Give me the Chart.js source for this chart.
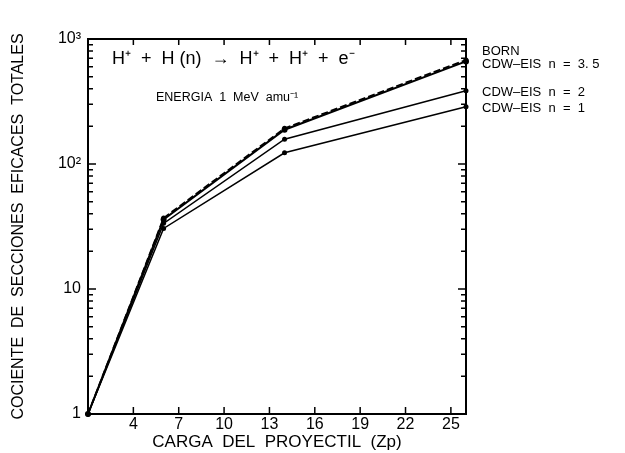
<!DOCTYPE html>
<html>
<head>
<meta charset="utf-8">
<script src="https://cdn.jsdelivr.net/npm/chart.js@4"></script>
<style>
  body { margin: 0; background: #fff; }
  canvas { display: block; }
</style>
</head>
<body>
<canvas id="chart" width="625" height="453"></canvas>
<script>
// projectile charge (Zp)
const zp = [1, 6, 14, 26];
// ratio of total cross sections
const born = [1, 37, 193, 680];
const cdw35 = [1, 36, 188, 662];
const cdw2 = [1, 33.5, 158, 385];
const cdw1 = [1, 30.5, 123, 287];

const xTicks = [1, 4, 7, 10, 13, 16, 19, 22, 25];
const xTickText = ['', '4', '7', '10', '13', '16', '19', '22', '25'];
const yTicks = [1, 10, 100, 1000];
const yTickText = ['1', '10', '10\u00B2', '10\u00B3'];

const seriesNames = ['BORN', 'CDW\u2013EIS  n  =  3. 5', 'CDW\u2013EIS  n  =  2', 'CDW\u2013EIS  n  =  1'];

const FONT = '"Liberation Sans", Arial, sans-serif';

function pts(arr) {
    return zp.map((z, i) => ({ x: z, y: arr[i] }));
}

// frame, inside ticks and the text labels
const decor = {
    id: 'decor',
    afterDraw(chart) {
        const { ctx, chartArea: { left, right, top, bottom }, scales: { x, y } } = chart;
        ctx.save();
        ctx.strokeStyle = '#000';
        ctx.lineWidth = 2;
        ctx.strokeRect(left, top, right - left, bottom - top);

        ctx.lineWidth = 1.5;
        ctx.beginPath();
        y.ticks.forEach(t => {
            const py = y.getPixelForValue(t.value);
            const len = yTicks.includes(t.value) ? 8 : 5;
            ctx.moveTo(left, py); ctx.lineTo(left + len, py);
            ctx.moveTo(right, py); ctx.lineTo(right - len, py);
        });
        x.ticks.forEach(t => {
            const px = x.getPixelForValue(t.value);
            ctx.moveTo(px, bottom); ctx.lineTo(px, bottom - 7);
            ctx.moveTo(px, top); ctx.lineTo(px, top + 6);
        });
        ctx.stroke();

        ctx.fillStyle = '#000';
        ctx.textBaseline = 'middle';
        ctx.textAlign = 'left';
        ctx.font = '18px ' + FONT;
        ctx.fillText('H\u207A  +  H (n)  \u2192  H\u207A  +  H\u207A  +  e\u207B', left + 24, top + 20);
        ctx.font = '12.5px ' + FONT;
        ctx.fillText('ENERGIA  1  MeV  amu\u207B\u00B9', left + 68, top + 59);

        // series labels next to the last point of each line
        const offsets = [-9, 3, 2, 1.5];
        ctx.font = '13px ' + FONT;
        chart.data.datasets.forEach((ds, i) => {
            const meta = chart.getDatasetMeta(i);
            const last = meta.data[meta.data.length - 1];
            ctx.fillText(seriesNames[i], right + 16, last.y + offsets[i]);
        });
        ctx.restore();
    }
};

const common = {
    borderColor: '#000',
    backgroundColor: '#000',
    borderWidth: 1.5,
    pointRadius: 2.5,
    pointBorderWidth: 0,
    clip: false,
    tension: 0
};

new Chart(document.getElementById('chart'), {
    type: 'line',
    data: {
        datasets: [
            { ...common, label: seriesNames[0], data: pts(born), borderDash: [7, 3], borderWidth: 1.8 },
            { ...common, label: seriesNames[1], data: pts(cdw35), borderWidth: 2, pointRadius: 3 },
            { ...common, label: seriesNames[2], data: pts(cdw2) },
            { ...common, label: seriesNames[3], data: pts(cdw1) }
        ]
    },
    options: {
        responsive: false,
        animation: false,
        layout: { padding: { top: 39, right: 159, bottom: 0, left: 0 } },
        plugins: {
            legend: { display: false },
            tooltip: { enabled: false }
        },
        scales: {
            x: {
                type: 'linear',
                min: 1,
                max: 26,
                grid: { display: false, drawTicks: false },
                border: { display: false },
                afterBuildTicks: s => { s.ticks = xTicks.map(v => ({ value: v })); },
                afterFit: s => { s.height = 39; },
                ticks: {
                    autoSkip: false,
                    maxRotation: 0,
                    padding: 1,
                    color: '#000',
                    font: { family: FONT, size: 16 },
                    callback: v => xTickText[xTicks.indexOf(v)] ?? ''
                },
                title: {
                    display: true,
                    text: 'CARGA  DEL  PROYECTIL  (Zp)',
                    color: '#000',
                    font: { family: FONT, size: 17 },
                    padding: { top: 0, bottom: 0 }
                }
            },
            y: {
                type: 'logarithmic',
                min: 1,
                max: 1000,
                grid: { display: false, drawTicks: false },
                border: { display: false },
                afterBuildTicks: s => {
                    const t = [];
                    for (let d = 1; d < 1000; d *= 10) {
                        for (let k = 1; k < 10; k++) t.push({ value: k * d });
                    }
                    t.push({ value: 1000 });
                    s.ticks = t;
                },
                afterFit: s => { s.width = 88; },
                ticks: {
                    autoSkip: false,
                    padding: 7,
                    color: '#000',
                    font: { family: FONT, size: 16 },
                    callback: v => {
                        const i = yTicks.indexOf(v);
                        return i >= 0 ? yTickText[i] : '';
                    }
                },
                title: {
                    display: true,
                    text: 'COCIENTE  DE  SECCIONES  EFICACES  TOTALES',
                    color: '#000',
                    font: { family: FONT, size: 16 },
                    padding: { top: 9, bottom: 0 }
                }
            }
        }
    },
    plugins: [decor]
});
</script>
</body>
</html>
